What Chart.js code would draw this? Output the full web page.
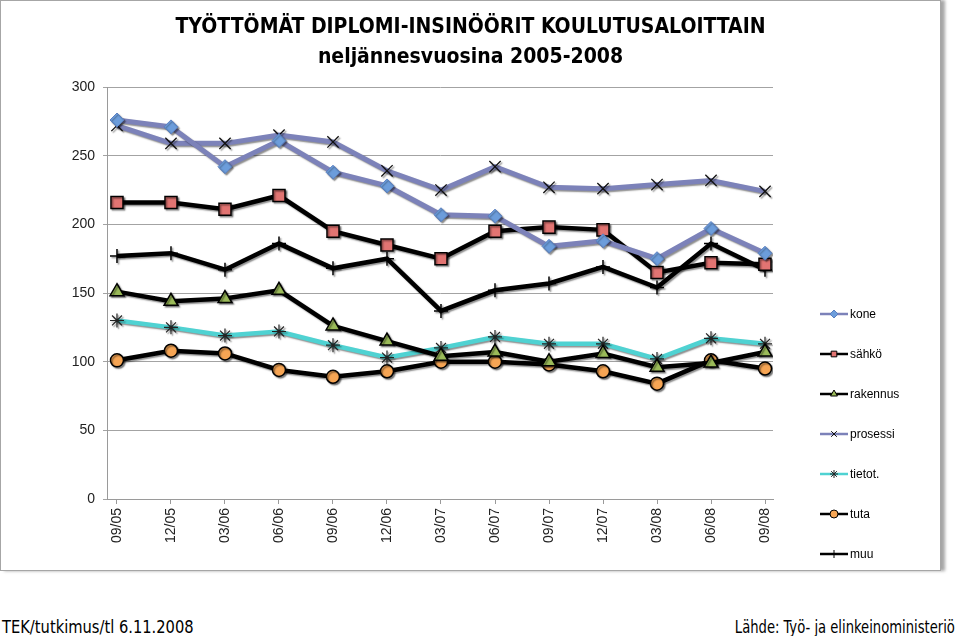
<!DOCTYPE html>
<html>
<head>
<meta charset="utf-8">
<title>Työttömät diplomi-insinöörit koulutusaloittain</title>
<script src="https://cdn.jsdelivr.net/npm/chart.js@4/dist/chart.umd.min.js"></script>
<style>
  html, body { margin: 0; padding: 0; background: #fff; }
  body { width: 960px; height: 636px; position: relative; overflow: hidden; }
  #frame {
    position: absolute; left: 0; top: 0; width: 939px; height: 569px;
    border: 1px solid #a6a6a6;
    box-shadow: 4px 0 3px rgba(0,0,0,0.35);
  }
  #chart { display: block; }
  .foot {
    position: absolute; top: 617px;
    font-family: "DejaVu Sans Condensed", "Liberation Sans", Arial, sans-serif;
    font-size: 17px; color: #000; white-space: nowrap;
  }
  #footL { left: 2px; transform: scaleX(0.96); transform-origin: left center; }
  #footR { right: 5px; transform: scaleX(0.86); transform-origin: right center; }
</style>
</head>
<body>
<div id="frame"><canvas id="chart" width="939" height="569"></canvas></div>
<div class="foot" id="footL">TEK/tutkimus/tl 6.11.2008</div>
<div class="foot" id="footR">Lähde: Työ- ja elinkeinoministeriö</div>

<script>
// neljännekset
const quarters = ['09/05', '12/05', '03/06', '06/06', '09/06', '12/06', '03/07',
                  '06/07', '09/07', '12/07', '03/08', '06/08', '09/08'];

// työttömät koulutusaloittain (luettu kuvasta)
const kone     = [276, 271, 242, 261, 238, 228, 207, 206, 184, 188, 175, 197, 179];
const sahko    = [216, 216, 211, 221, 195, 185, 175, 195, 198, 196, 165, 172, 171];
const rakennus = [151, 144, 146, 152, 126, 115, 104, 107, 100, 106,  96,  99, 107];
const prosessi = [272, 259, 259, 265, 260, 239, 225, 242, 227, 226, 229, 232, 224];
const tietot   = [130, 125, 119, 122, 112, 103, 110, 118, 113, 113, 102, 117, 113];
const tuta     = [101, 108, 106,  94,  89,  93, 100, 100,  98,  93,  84, 101,  95];
const muu      = [177, 179, 167, 186, 168, 175, 137, 152, 157, 169, 154, 186, 167];

const yTicks = [0, 50, 100, 150, 200, 250, 300];

function pts(arr) {
  return arr.map((v, i) => ({ x: i, y: v }));
}

const BLUEGREY = '#7c82b9';

function series(label, data, line, style, fill, border, radius, bw, lw) {
  return {
    label: label,
    data: pts(data),
    borderColor: line,
    borderWidth: lw,
    pointStyle: style,
    pointRadius: radius,
    pointHoverRadius: radius,
    pointBackgroundColor: fill,
    pointBorderColor: border,
    pointBorderWidth: bw,
    tension: 0
  };
}

const datasets = [
  series('kone', kone, BLUEGREY, 'rectRot', '#6c9ddb', '#5a7fc0', 7, 1, 5),
  series('sähkö', sahko, '#000', 'rect', '#e27472', '#000', 8.5, 1.5, 4.5),
  series('rakennus', rakennus, '#000', 'triangle', '#9bbb59', '#000', 8, 1.5, 4.5),
  series('prosessi', prosessi, BLUEGREY, 'crossRot', '#000', '#111', 8, 1.3, 5),
  series('tietot.', tietot, '#4fd2d2', 'star', '#000', '#222', 7, 1.2, 4.5),
  series('tuta', tuta, '#000', 'circle', '#f6a554', '#000', 6.5, 1.5, 4.5),
  series('muu', muu, '#000', 'cross', '#000', '#000', 7, 1.5, 4.5)
];

// varjo merkeille ja viivoille
const shadowPlugin = {
  id: 'shadow',
  beforeDatasetsDraw(chart) {
    const ctx = chart.ctx;
    ctx.save();
    ctx.shadowColor = 'rgba(0,0,0,0.45)';
    ctx.shadowOffsetX = 1.5;
    ctx.shadowOffsetY = 1.5;
    ctx.shadowBlur = 1.5;
  },
  afterDatasetsDraw(chart) {
    chart.ctx.restore();
  }
};

// selite oikealle: viiva + merkki
const sideLegend = {
  id: 'sideLegend',
  afterDraw(chart) {
    const ctx = chart.ctx;
    ctx.save();
    chart.data.datasets.forEach((ds, i) => {
      const y = 313 + i * 40;
      ctx.strokeStyle = ds.borderColor;
      ctx.lineWidth = 2.5;
      ctx.beginPath();
      ctx.moveTo(819, y);
      ctx.lineTo(847, y);
      ctx.stroke();
      ctx.fillStyle = ds.pointBackgroundColor;
      ctx.strokeStyle = ds.pointBorderColor;
      ctx.lineWidth = 1;
      Chart.helpers.drawPoint(ctx, {
        pointStyle: ds.pointStyle,
        radius: 4,
        rotation: 0,
        borderWidth: 1
      }, 833, y);
      ctx.fillStyle = '#000';
      ctx.font = '12px "Liberation Sans", Arial, sans-serif';
      ctx.textBaseline = 'middle';
      ctx.textAlign = 'left';
      ctx.fillText(ds.label, 849, y + 1);
    });
    ctx.restore();
  }
};

new Chart(document.getElementById('chart').getContext('2d'), {
  type: 'line',
  data: { datasets: datasets },
  plugins: [shadowPlugin, sideLegend],
  options: {
    responsive: false,
    animation: false,
    layout: { padding: 0 },
    scales: {
      x: {
        type: 'linear',
        min: -0.185,
        max: 12.148,
        afterBuildTicks: (scale) => {
          scale.ticks = quarters.map((q, i) => ({ value: i }));
        },
        afterFit: (scale) => { scale.height = 71; },
        ticks: {
          autoSkip: false,
          minRotation: 90,
          maxRotation: 90,
          padding: 4,
          color: '#222',
          font: { family: '"Liberation Sans", Arial, sans-serif', size: 14 },
          callback: (v) => quarters[v]
        },
        grid: { display: true, drawOnChartArea: false, tickLength: 5, color: '#9a9a9a' },
        border: { color: '#9a9a9a', width: 1 }
      },
      y: {
        min: 0,
        max: 300,
        afterBuildTicks: (scale) => {
          scale.ticks = yTicks.map(v => ({ value: v }));
        },
        afterFit: (scale) => { scale.width = 106; },
        ticks: {
          padding: 8,
          color: '#222',
          font: { family: '"Liberation Sans", Arial, sans-serif', size: 14 }
        },
        grid: { color: '#a3a3a3', lineWidth: 1, tickLength: 4 },
        border: { color: '#9a9a9a', width: 1 }
      },
      // tyhjä akseli oikealla selitteen tilaksi
      side: {
        type: 'linear',
        position: 'right',
        min: 0,
        max: 300,
        afterFit: (scale) => { scale.width = 167; },
        ticks: { display: false },
        grid: { display: false, drawTicks: false },
        border: { display: false }
      }
    },
    plugins: {
      legend: { display: false },
      tooltip: { enabled: false },
      title: {
        display: true,
        text: ['TYÖTTÖMÄT DIPLOMI-INSINÖÖRIT KOULUTUSALOITTAIN', 'neljännesvuosina 2005-2008'],
        color: '#000',
        font: {
          family: '"DejaVu Sans Condensed", "Liberation Sans", Arial, sans-serif',
          size: 21,
          weight: 'bold',
          lineHeight: 1.43
        },
        padding: { top: 12, bottom: 14 }
      }
    }
  }
});
</script>
</body>
</html>
